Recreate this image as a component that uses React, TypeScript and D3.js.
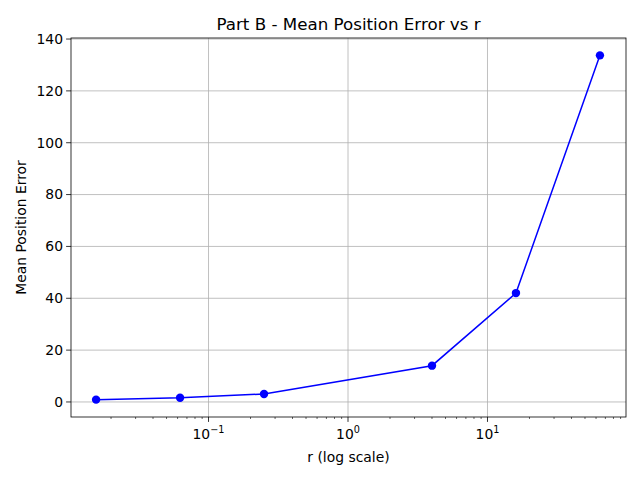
import * as d3 from "d3";
import { useEffect, useRef } from "react";

const rValues = [0.015625, 0.0625, 0.25, 4, 16, 64];
const meanErrors = [0.9, 1.6, 3.1, 14.0, 42.0, 133.7];
const yTicks = [0, 20, 40, 60, 80, 100, 120, 140];
const xDecades = [-1, 0, 1];

const W = 640;
const H = 480;
const m = { left: 71, right: 14, top: 38, bottom: 63 };

export default function App() {
  const ref = useRef<SVGSVGElement>(null);

  useEffect(() => {
    const svg = d3.select(ref.current);
    svg.selectAll("*").remove();
    const font = "DejaVu Sans, sans-serif";

    const x = d3
      .scaleLog()
      .domain([Math.pow(10, -1.986), Math.pow(10, 1.993)])
      .range([m.left, W - m.right]);
    const y = d3.scaleLinear().domain([-5.8, 140.4]).range([H - m.bottom, m.top]);

    svg.append("rect").attr("width", W).attr("height", H).attr("fill", "white");

    const g = svg.append("g");
    // grid
    xDecades.forEach((d) => {
      const px = x(Math.pow(10, d));
      g.append("line")
        .attr("x1", px).attr("x2", px)
        .attr("y1", m.top).attr("y2", H - m.bottom)
        .attr("stroke", "#b0b0b0").attr("stroke-width", 0.8);
    });
    yTicks.forEach((t) => {
      g.append("line")
        .attr("x1", m.left).attr("x2", W - m.right)
        .attr("y1", y(t)).attr("y2", y(t))
        .attr("stroke", "#b0b0b0").attr("stroke-width", 0.8);
    });

    // minor ticks
    for (let d = -2; d <= 1; d++) {
      for (let k = 2; k <= 9; k++) {
        const v = k * Math.pow(10, d);
        const [a, b] = x.domain();
        if (v < a || v > b) continue;
        g.append("line")
          .attr("x1", x(v)).attr("x2", x(v))
          .attr("y1", H - m.bottom).attr("y2", H - m.bottom + 2)
          .attr("stroke", "black").attr("stroke-width", 0.6);
      }
    }

    // major x ticks
    xDecades.forEach((d) => {
      const px = x(Math.pow(10, d));
      g.append("line")
        .attr("x1", px).attr("x2", px)
        .attr("y1", H - m.bottom).attr("y2", H - m.bottom + 4.9)
        .attr("stroke", "black").attr("stroke-width", 0.8);
      const t = g.append("text")
        .attr("x", px).attr("y", H - m.bottom + 22)
        .attr("text-anchor", "middle")
        .attr("font-family", font).attr("font-size", 13.9);
      t.append("tspan").text("10");
      t.append("tspan").attr("dy", -6).attr("font-size", 9.7).text(d < 0 ? "\u2212" + -d : String(d));
    });

    yTicks.forEach((tv) => {
      g.append("line")
        .attr("x1", m.left - 4.9).attr("x2", m.left)
        .attr("y1", y(tv)).attr("y2", y(tv))
        .attr("stroke", "black").attr("stroke-width", 0.8);
      g.append("text")
        .attr("x", m.left - 8).attr("y", y(tv))
        .attr("dy", "0.35em")
        .attr("text-anchor", "end")
        .attr("font-family", font).attr("font-size", 13.9)
        .text(tv);
    });

    // line & points
    const pts = rValues.map((r, i) => [x(r), y(meanErrors[i])] as [number, number]);
    g.append("path")
      .attr("d", d3.line()(pts))
      .attr("fill", "none").attr("stroke", "blue").attr("stroke-width", 1.5);
    g.selectAll("circle.pt").data(pts).enter().append("circle")
      .attr("cx", (d) => d[0]).attr("cy", (d) => d[1]).attr("r", 4.2)
      .attr("fill", "blue");

    // frame
    g.append("rect")
      .attr("x", m.left).attr("y", m.top)
      .attr("width", W - m.left - m.right).attr("height", H - m.top - m.bottom)
      .attr("fill", "none").attr("stroke", "black").attr("stroke-width", 0.8);

    svg.append("text")
      .attr("x", (m.left + W - m.right) / 2).attr("y", m.top - 8)
      .attr("text-anchor", "middle")
      .attr("font-family", font).attr("font-size", 16.7)
      .text("Part B - Mean Position Error vs r");
    svg.append("text")
      .attr("x", (m.left + W - m.right) / 2).attr("y", 462)
      .attr("text-anchor", "middle")
      .attr("font-family", font).attr("font-size", 13.9)
      .text("r (log scale)");
    svg.append("text")
      .attr("transform", `translate(26,${(m.top + H - m.bottom) / 2}) rotate(-90)`)
      .attr("text-anchor", "middle")
      .attr("font-family", font).attr("font-size", 13.9)
      .text("Mean Position Error");
  }, []);

  return (
    <svg
      ref={ref}
      width={W}
      height={H}
      style={{ position: "absolute", left: 0, top: 0, display: "block" }}
    />
  );
}
